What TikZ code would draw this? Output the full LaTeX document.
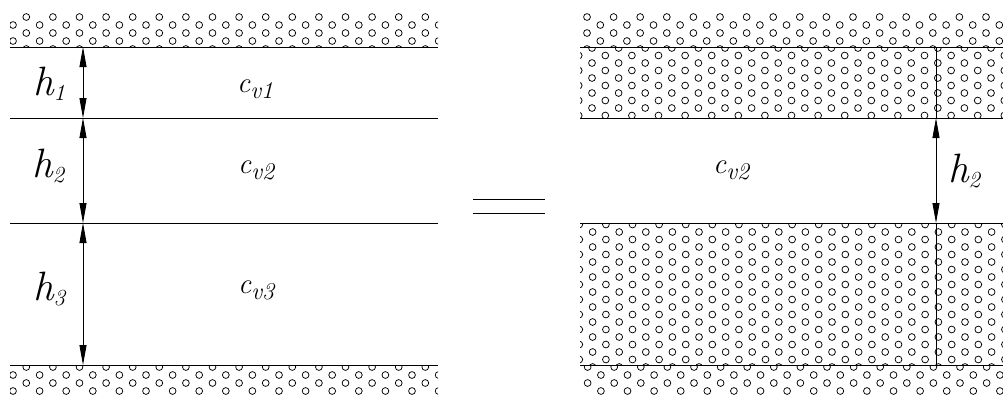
\documentclass[tikz,border=0pt]{standalone}
\usepackage{fontspec}
\usetikzlibrary{arrows.meta}

\newcommand\pores[7]{%
  \begin{scope}
    \clip (#1,#2) rectangle (#3,#4);
    \foreach \i in {0,...,33}{
      \foreach \j in {-1,...,12}{
        \draw[pore] ({#5+13.3*\i},{#6+#7*\j+#7/2*mod(\i,2)}) circle (3.4pt);
      }
    }
  \end{scope}}
\newcommand\hsub[1]{\raisebox{-5pt}{\fontsize{23}{23}\selectfont #1}}
\newcommand\csub[1]{\raisebox{-6pt}{\fontsize{24}{24}\selectfont v#1}}

\begin{document}
\begin{tikzpicture}[
  x=1pt, y=-1pt,
  layer/.style={line width=1pt},
  pore/.style={line width=0.75pt},
  dim/.style={{Triangle[length=20pt,width=7pt]}-{Triangle[length=20pt,width=7pt]}, line width=0.8pt},
  hlab/.style={anchor=base west, inner sep=0pt, font=\fontsize{41}{41}\selectfont\itshape},
  clab/.style={anchor=base west, inner sep=0pt, font=\fontsize{29}{29}\selectfont\itshape}
]
\useasboundingbox (0,0) rectangle (1003,394);
\def\xl{10}
\def\xr{438}
\def\xa{580}
\def\xb{1003}
  % left layers
  \pores{\xl}{13}{\xr}{47}{13}{25}{16}
  \pores{\xl}{365}{\xr}{394}{13}{375}{16}
  \foreach \y in {47,118,223,365}
    \draw[layer] (\xl,\y) -- (\xr,\y);
  \coordinate (L0) at (83,47);
  \coordinate (L1) at (83,118);
  \coordinate (L2) at (83,223);
  \coordinate (L3) at (83,365);
  \draw[dim] (L0) -- (L1);
  \draw[dim] (L1) -- (L2);
  \draw[dim] (L2) -- (L3);
  \node[hlab] (h1) at (33,95) {h\hsub{1}};
  \node[hlab] (h2) at (32,177) {h\hsub{2}};
  \node[hlab] (h3) at (33,300) {h\hsub{3}};
  \node[clab] (c1) at (237,92) {c\csub{1}};
  \node[clab] (c2) at (238,173) {c\csub{2}};
  \node[clab] (c3) at (238,293) {c\csub{3}};
  % equals
  \draw[layer] (473,199) -- (545,199);
  \draw[layer] (473,213) -- (545,213);
  % right layers
  \pores{\xa}{13}{\xb}{47}{587}{17}{16}
  \pores{\xa}{47}{\xb}{118}{578.7}{55.5}{15}
  \pores{\xa}{223}{\xb}{365}{579.3}{224.5}{15}
  \pores{\xa}{365}{\xb}{394}{587.6}{367}{16}
  \foreach \y in {47,118,223,365}
    \draw[layer] (\xa,\y) -- (\xb,\y);
  \coordinate (R0) at (936,47);
  \coordinate (R1) at (936,118);
  \coordinate (R2) at (936,223);
  \coordinate (R3) at (936,365);
  \draw[layer] (R0) -- (R1);
  \draw[dim] (R1) -- (R2);
  \draw[layer] (R2) -- (R3);
  \node[hlab] (h4) at (948,182) {h\hsub{2}};
  \node[clab] (c4) at (713,173) {c\csub{2}};
\end{tikzpicture}
\end{document}
